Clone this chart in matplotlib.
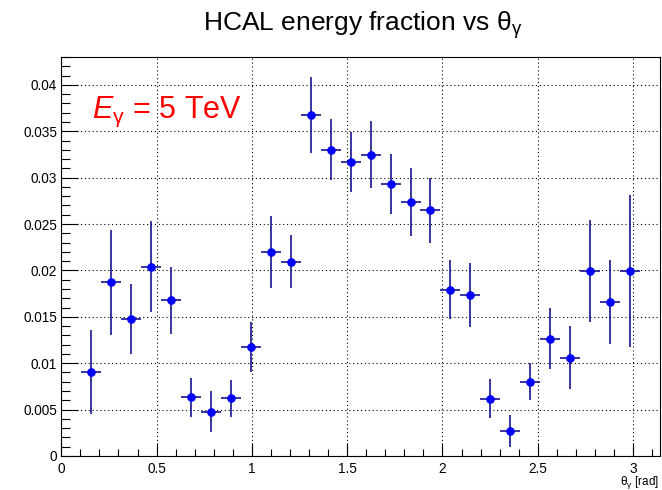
import matplotlib.pyplot as plt
from matplotlib.ticker import MultipleLocator

plt.rcParams['font.family'] = ['Liberation Sans', 'DejaVu Sans']
plt.rcParams['mathtext.fontset'] = 'custom'
plt.rcParams['mathtext.rm'] = 'Liberation Sans'
plt.rcParams['mathtext.it'] = 'Liberation Sans:italic'

# bin centres (30 bins over 0..pi, first and last empty)
theta = [0.157, 0.262, 0.367, 0.471, 0.576, 0.681, 0.785, 0.890, 0.995,
         1.100, 1.204, 1.309, 1.414, 1.518, 1.623, 1.728, 1.833, 1.937,
         2.042, 2.147, 2.251, 2.356, 2.461, 2.566, 2.670, 2.775, 2.880, 2.985]
frac = [0.00905, 0.0187, 0.01477, 0.0204, 0.0168, 0.00633, 0.00476, 0.00622,
        0.01173, 0.0220, 0.02096, 0.03677, 0.03301, 0.03169, 0.03248, 0.02933,
        0.02739, 0.02647, 0.01792, 0.01735, 0.00619, 0.00272, 0.00801, 0.01263,
        0.01059, 0.01996, 0.0166, 0.01996]
frac_err = [0.0045, 0.0057, 0.0038, 0.0049, 0.0036, 0.0021, 0.0022, 0.0020,
            0.0027, 0.0039, 0.0029, 0.0041, 0.0033, 0.0032, 0.0036, 0.0032,
            0.0037, 0.0035, 0.0032, 0.0035, 0.0021, 0.0017, 0.0020, 0.0033,
            0.0034, 0.0055, 0.0045, 0.0082]
half_bin = 0.0524

fig = plt.figure(figsize=(6.62, 4.90), dpi=100)
ax = fig.add_axes([0.0926, 0.0694, 0.9044, 0.8143])

ax.errorbar(theta, frac, xerr=half_bin, yerr=frac_err, fmt='o',
            color='#0000ff', ms=5.2, ecolor='#14148f', elinewidth=1.2,
            capsize=0, zorder=3)

ax.set_xlim(0, 3.1416)
ax.set_ylim(0, 0.0430)

ax.xaxis.set_major_locator(MultipleLocator(0.5))
ax.xaxis.set_minor_locator(MultipleLocator(0.1))
ax.yaxis.set_major_locator(MultipleLocator(0.005))
ax.yaxis.set_minor_locator(MultipleLocator(0.001))
ax.xaxis.set_major_formatter(lambda v, p: f'{v:g}')
ax.yaxis.set_major_formatter(lambda v, p: f'{v:g}')

ax.tick_params(axis='both', which='both', direction='in', top=False,
               right=False, labelsize=9.8, color='black')
ax.tick_params(axis='y', which='major', length=12, width=0.8, pad=3)
ax.tick_params(axis='y', which='minor', length=6.5, width=0.8)
ax.tick_params(axis='x', which='major', length=9.5, width=0.8, pad=4)
ax.tick_params(axis='x', which='minor', length=4.7, width=0.8)

ax.grid(True, which='major', color='black', linestyle=(0, (1, 2.5)),
        linewidth=0.8)
ax.set_axisbelow(True)
for s in ax.spines.values():
    s.set_linewidth(0.8)

# axis title sits at the bottom right, ROOT style
fig.text(0.995, 0.01, r'$\mathrm{\theta}_{\mathrm{\gamma}}$ [rad]',
         fontsize=8.5, ha='right', va='baseline')
fig.text(0.548, 0.937, r'HCAL energy fraction vs $\mathrm{\theta}_{\mathrm{\gamma}}$',
         ha='center', va='baseline', fontsize=19)
ax.text(0.16, 0.0364, r'$E_{\mathrm{\gamma}}$ = 5 TeV', color='red',
        fontsize=22, ha='left', va='baseline')

fig.savefig('out.png', dpi=100)
